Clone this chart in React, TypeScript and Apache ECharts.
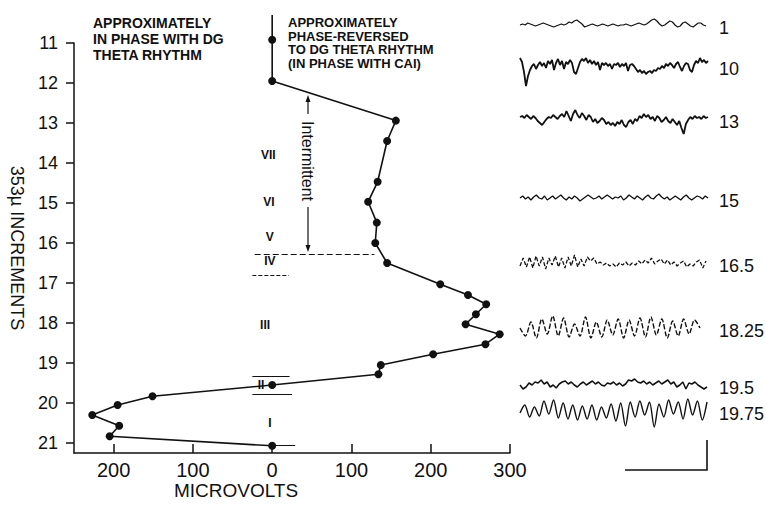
import React, { useEffect, useRef } from "react";
import * as echarts from "echarts";

// ---- main profile (depth in 353µ increments vs. microvolts; negative = in phase with DG) ----
const depths = [10.3, 10.92, 11.95, 12.94, 13.45, 14.47, 14.97, 15.49, 16.0, 16.5, 17.03, 17.3, 17.53, 17.78, 18.03, 18.28, 18.53, 18.78, 19.05, 19.28, 19.55, 19.83, 20.05, 20.3, 20.57, 20.83, 21.07];
const microvolts = [0, 0, 0, 156, 145, 133, 121, 132, 130, 145, 212, 247, 270, 257, 244, 287, 269, 203, 137, 134, 0, -151, -195, -227, -193, -205, 0];

const depthTicks = [11, 12, 13, 14, 15, 16, 17, 18, 19, 20, 21];
const voltTicks = [-200, -100, 0, 100, 200, 300];

// ---- layer labels ----
const layerNames = ["VII", "VI", "V", "IV", "III", "II", "I"];
const layerDepths = [13.8, 14.98, 15.85, 16.45, 18.05, 19.55, 20.5];
const layerVolts = [-5, -4, -3, -3, -9, -14, -3];

// ---- EEG sample traces (amplitude, up positive) ----
const traceLabels = ["1", "10", "13", "15", "16.5", "18.25", "19.5", "19.75"];
const trace1 = [0, 1, 0, 2, 1, 0, -1, 0, 1, 2, 1, 0, -1, -2, -1, 0, 1, 0, 1, 3, 2, 4, 5, 3, 1, -2, -1, 0, 1, 0, -1, 0, 1, 0, -1, 0, 1, 0, -1, 0, 0, 1, 0, -1, 0, 1, 2, 1, 0, 1, 3, 5, 6, 4, 1, -1, 0, 2, 4, 3, 0, -2, -1, 2, 3, 1, -1, -2, 0, 2, 2, 0, -1];
const trace10 = [8, 4, -6, -20, -10, -4, 0, 2, -3, 1, 4, 0, 3, -2, 5, 2, 6, -4, 3, 7, 1, 5, -3, 4, 2, 6, 3, -6, -8, -2, 4, 7, 5, 8, 3, 6, 2, 5, 1, 4, -4, 3, 1, 3, 0, 2, -3, 2, 1, 3, -1, 2, 0, 3, -5, 1, 2, 0, -3, -6, -4, -7, -5, -8, -6, -5, -7, -4, -5, -2, -3, 0, -2, 2, 0, 3, 1, -2, 2, 4, -1, -5, 0, 3, 2, -4, -6, 1, 5, 3, 8, 4, 6, 3, 5];
const trace13 = [2, 3, 1, 4, 2, 0, 3, 1, -2, -4, -6, -3, 0, 2, 1, 4, 2, 0, 3, 5, 2, 8, 3, -2, 5, 9, 4, 1, 6, 3, -1, 4, 2, -3, 0, -4, -2, 1, -1, -5, -3, -6, -4, -7, -3, -5, -1, -6, -8, -3, -1, -5, 0, -2, 3, 1, 5, 2, 4, 0, 2, -2, 3, 1, -3, -1, 2, -2, -4, 0, -3, -6, -2, -9, -15, -5, -1, 2, 0, 3, 1, 2, 0, 3, 1, 2];
const trace15 = [0, 2, -1, 1, -2, 1, 3, 0, -1, 2, -2, 0, 2, -1, 1, 3, 0, -2, 1, -1, 2, 0, -3, -1, 1, 3, 1, -1, 0, 2, -1, 1, 3, 1, -1, 1, 0, 2, -2, 0, 3, 1, -1, 2, 0, -2, 1, 3, 0, -1, 2, 4, 1, -1, 1, -2, 0, 2, 0, -2, 1, 3, 0, -2, 0, 2, 1, -1, 2, 0];
const trace165 = [-3, 5, -4, 6, -5, 7, -3, 6, -6, 5, -2, 7, -4, 5, -5, 6, -3, 8, -4, 4, -3, 6, 2, 5, -1, 1, -2, 0, -3, -1, -4, 0, -2, 1, -3, 0, -2, 2, -1, 3, 0, 5, -1, 2, 4, -1, 3, -2, 1, -3, 0, 2, -4, -1, -3, 1, 3, -5, 2];
const trace1825 = [0, -8, 6, -10, 9, -6, 12, -8, 10, -9, 4, -8, 11, -10, 6, -9, 8, -7, 9, -10, 8, -8, 10, -9, 11, -7, 9, -10, 7, -8, 9, -6, 8, 0];
const trace195 = [0, -4, -2, 2, 0, 3, 2, 5, 1, 3, -2, 0, -3, 1, 3, 4, 1, 3, 0, -2, 1, 3, 0, 2, 4, 1, 3, 0, -1, 2, 1, 3, 0, 2, -1, 1, 5, 4, 6, 3, 2, 4, 1, 3, 0, 2, 4, 1, 3, 5, 1, 3, -2, 0, 3, -4, 2, 1, 3, 0, -2, -4, -2];
const trace1975 = [-2, 6, -6, 4, -5, 10, -3, 11, -7, 8, -8, 6, -9, 5, -8, 6, -9, 4, -7, 7, -10, 8, -15, 9, -6, 10, -4, 9, -16, 7, -6, 11, -3, 9, -8, 12, -4, 10, -9, 9];
const traces = [trace1, trace10, trace13, trace15, trace165, trace1825, trace195, trace1975];

const FONT = "'Liberation Sans', Arial, sans-serif";
const INK = "#111";

export default function App() {
  const ref = useRef<HTMLDivElement>(null);

  useEffect(() => {
    if (!ref.current) return;
    const chart = echarts.init(ref.current, null, { renderer: "svg" });

    // layout of the trace panels (pixel centres)
    const traceCenters = [25, 66, 119, 198, 263, 328, 385, 411];
    const traceWidths = [186, 188, 188, 188, 186, 180, 187, 187];
    const traceStyles: any[] = [
      { width: 1.2 },
      { width: 1.8 },
      { width: 1.8 },
      { width: 1.3 },
      { width: 1.3, type: [4, 2] },
      { width: 1.4, type: [5, 2] },
      { width: 1.5 },
      { width: 1.4 },
    ];

    const grids: any[] = [{ left: 70, top: 43, width: 440, height: 410 }];
    const xAxes: any[] = [
      {
        type: "value",
        min: -250,
        max: 300,
        axisLine: { show: true, onZero: false, lineStyle: { color: INK, width: 1.5 } },
        axisTick: { show: true, inside: true, length: 9, customValues: voltTicks, lineStyle: { color: INK, width: 1.5 } },
        axisLabel: {
          customValues: voltTicks,
          formatter: (v: number) => String(Math.abs(v)),
          fontSize: 20,
          fontFamily: FONT,
          color: INK,
          margin: 7,
        },
        splitLine: { show: false },
      },
    ];
    const yAxes: any[] = [
      {
        type: "value",
        inverse: true,
        min: 11,
        max: 21.25,
        name: "353µ INCREMENTS",
        nameLocation: "middle",
        nameRotate: -90,
        nameGap: 48,
        nameTextStyle: { fontSize: 18, fontFamily: FONT, color: INK },
        axisLine: { show: true, onZero: false, lineStyle: { color: INK, width: 1.5 } },
        axisTick: { show: true, inside: false, length: 8, customValues: depthTicks, lineStyle: { color: INK, width: 1.5 } },
        axisLabel: { customValues: depthTicks, fontSize: 18, fontFamily: FONT, color: INK, margin: 16 },
        splitLine: { show: false },
      },
    ];

    const series: any[] = [
      {
        type: "line",
        xAxisIndex: 0,
        yAxisIndex: 0,
        clip: false,
        data: depths.map((d, i) => ({ value: [microvolts[i], d], symbol: i === 0 ? "none" : "circle" })),
        symbol: "circle",
        symbolSize: 8,
        itemStyle: { color: INK },
        lineStyle: { color: INK, width: 1.6 },
        z: 5,
      },
      {
        type: "scatter",
        xAxisIndex: 0,
        yAxisIndex: 0,
        symbolSize: 2,
        itemStyle: { color: "rgba(0,0,0,0)" },
        data: layerDepths.map((d, i) => ({ name: layerNames[i], value: [layerVolts[i], d] })),
        label: {
          show: true,
          position: "inside",
          formatter: (p: any) => layerNames[p.dataIndex],
          fontSize: 12,
          fontWeight: "bold",
          fontFamily: FONT,
          color: INK,
          textBorderWidth: 0,
          textBorderColor: "transparent",
          opacity: 1,
        },
        z: 6,
        markLine: {
          silent: true,
          symbol: "none",
          label: { show: false },
          lineStyle: { color: INK, width: 1, type: "solid" },
          data: [
            [{ coord: [-25, 19.33] }, { coord: [22, 19.33] }],
            [{ coord: [-25, 19.78] }, { coord: [25, 19.78] }],
            [{ coord: [0, 21.06] }, { coord: [29, 21.06] }],
            [{ coord: [-22, 16.28], lineStyle: { type: [6, 3], width: 1 } }, { coord: [129, 16.28] }],
            [{ coord: [-25, 16.8], lineStyle: { type: [4, 2], width: 1 } }, { coord: [21, 16.8] }],
          ],
        },
      },
    ];

    traces.forEach((t, i) => {
      const gi = i + 1;
      grids.push({ left: 520, width: traceWidths[i], top: traceCenters[i] - 25, height: 50 });
      xAxes.push({ gridIndex: gi, type: "value", min: 0, max: t.length - 1, show: false });
      yAxes.push({ gridIndex: gi, type: "value", min: -25, max: 25, show: false });
      series.push({
        type: "line",
        xAxisIndex: gi,
        yAxisIndex: gi,
        data: t.map((v, k) => [k, v]),
        symbol: "none",
        smooth: i === 5 || i === 7 ? 0.3 : false,
        lineStyle: { color: INK, ...traceStyles[i] },
      });
    });

    const graphic: any[] = [
      {
        type: "text",
        left: 93,
        top: 15,
        style: {
          text: "APPROXIMATELY\nIN PHASE WITH DG\nTHETA RHYTHM",
          font: `bold 14px ${FONT}`,
          lineHeight: 16,
          fill: INK,
        },
      },
      {
        type: "text",
        left: 288,
        top: 16,
        style: {
          text: "APPROXIMATELY\nPHASE-REVERSED\nTO DG THETA RHYTHM\n(IN PHASE WITH CAI)",
          font: `bold 13px ${FONT}`,
          lineHeight: 13.5,
          fill: INK,
        },
      },
      {
        type: "text",
        x: 236,
        y: 490,
        style: { text: "MICROVOLTS", font: `19px ${FONT}`, fill: INK, align: "center", verticalAlign: "middle" },
      },
      {
        type: "text",
        x: 307,
        y: 161,
        rotation: -Math.PI / 2,
        style: { text: "Intermittent", font: `16px ${FONT}`, fill: INK, align: "center", verticalAlign: "middle" },
      },
      { type: "line", shape: { x1: 308, y1: 100, x2: 308, y2: 114 }, style: { stroke: INK, lineWidth: 1.2 } },
      { type: "polygon", shape: { points: [[308, 95], [305.5, 102], [310.5, 102]] }, style: { fill: INK } },
      { type: "line", shape: { x1: 308, y1: 207, x2: 308, y2: 246 }, style: { stroke: INK, lineWidth: 1.2 } },
      { type: "polygon", shape: { points: [[308, 252], [305.5, 245], [310.5, 245]] }, style: { fill: INK } },
      {
        type: "polyline",
        shape: { points: [[625, 470], [707, 470], [707, 440]] },
        style: { stroke: INK, lineWidth: 1.6, fill: "none" },
      },
    ];

    traceLabels.forEach((lab, i) => {
      graphic.push({
        type: "text",
        x: 719,
        y: traceCenters[i] + 3,
        style: { text: lab, font: `18px ${FONT}`, fill: INK, verticalAlign: "middle" },
      });
    });

    chart.setOption({
      animation: false,
      backgroundColor: "#fff",
      grid: grids,
      xAxis: xAxes,
      yAxis: yAxes,
      series,
      graphic,
    });

    return () => chart.dispose();
  }, []);

  return (
    <div
      ref={ref}
      style={{ position: "fixed", left: 0, top: 0, width: 766, height: 506, background: "#fff" }}
    />
  );
}
